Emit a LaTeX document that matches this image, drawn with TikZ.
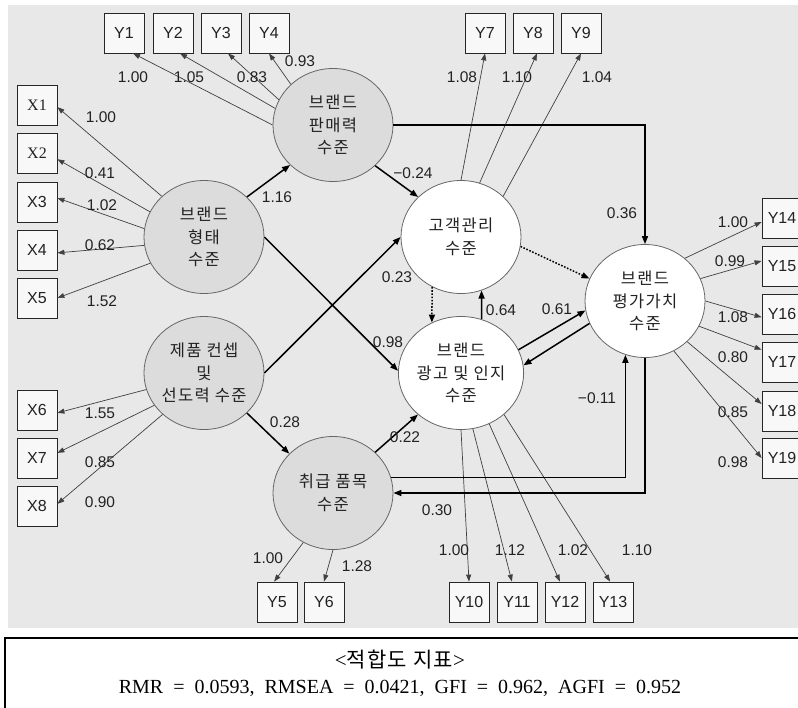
\documentclass[tikz,border=0pt]{standalone}
\usepackage{fontspec}
\setmainfont{Liberation Sans}
\newfontfamily\krfont{Noto Sans CJK KR}[LetterSpace=8]
\newfontfamily\krfoot{Noto Sans CJK KR}[LetterSpace=6]
\newfontfamily\serfont{Liberation Serif}
\newcommand{\fsp}{\hspace{10pt}}
\usetikzlibrary{shapes.geometric,arrows.meta}
\definecolor{panelbg}{HTML}{E8E8E8}
\definecolor{latfill}{HTML}{DCDCDC}
\definecolor{boxfill}{HTML}{F8F8F8}
\definecolor{txt}{HTML}{222222}
\tikzset{
  lat/.style={ellipse, draw=black!60, line width=0.8pt, minimum width=120pt, minimum height=113pt,
    inner sep=0pt, align=center, text=txt, font=\krfont\fontsize{16.5}{22.5}\selectfont},
  latg/.style={lat, fill=latfill},
  latw/.style={lat, fill=white},
  obs/.style={draw=black!85, fill=boxfill, line width=0.8pt, minimum width=40pt, minimum height=40pt,
    inner sep=0pt, text=txt, font=\fontsize{16}{18}\selectfont},
  obsser/.style={obs, font=\serfont\fontsize{16}{18}\selectfont},
  lbl/.style={inner sep=0pt, text=txt, font=\fontsize{15.5}{18}\selectfont},
  ml/.style={draw=black!75, line width=0.7pt, -{Triangle[length=7pt,width=5pt]}},
  sl/.style={draw=black, line width=1.5pt, -{Triangle[length=8pt,width=6pt]}},
  dl/.style={draw=black, line width=1.5pt, dash pattern=on 1.6pt off 1.6pt, -{Triangle[length=8pt,width=6pt]}}
}
\begin{document}
\begin{tikzpicture}[x=1pt,y=-1pt]
\useasboundingbox (0,0) rectangle (798,707);
\clip (0,0) rectangle (798,707);
\fill[white] (0,0) rectangle (798,707);
\fill[panelbg] (8,5) rectangle (800,628);
\draw[line width=1.2pt] (5,720) -- (5,638) -- (810,638);

% observed boxes
\node[obs] (Y1) at (124,33) {Y1};
\node[obs] (Y2) at (173,33) {Y2};
\node[obs] (Y3) at (221,33) {Y3};
\node[obs] (Y4) at (269,33) {Y4};
\node[obs] (Y7) at (485,33) {Y7};
\node[obs] (Y8) at (533,33) {Y8};
\node[obs] (Y9) at (581,33) {Y9};
\node[obsser] (X1) at (37,105) {X1};
\node[obsser] (X2) at (37,153) {X2};
\node[obs] (X3) at (37,202) {X3};
\node[obs] (X4) at (37,250) {X4};
\node[obs] (X5) at (37,298) {X5};
\node[obs] (X6) at (37,410) {X6};
\node[obs] (X7) at (37,458) {X7};
\node[obs] (X8) at (37,506) {X8};
\node[obs] (Y5) at (277,602) {Y5};
\node[obs] (Y6) at (324,602) {Y6};
\node[obs] (Y10) at (469,602) {Y10};
\node[obs] (Y11) at (517,602) {Y11};
\node[obs] (Y12) at (565,602) {Y12};
\node[obs] (Y13) at (613,602) {Y13};
\node[obs] (Y14) at (782,218) {Y14};
\node[obs] (Y15) at (782,266) {Y15};
\node[obs] (Y16) at (782,314) {Y16};
\node[obs] (Y17) at (782,362) {Y17};
\node[obs] (Y18) at (782,411) {Y18};
\node[obs] (Y19) at (782,458) {Y19};

% latent variables
\node[latg] (Pan) at (333,125) {브랜드\\판매력\\수준};
\node[latg] (Form) at (204,237) {브랜드\\형태\\수준};
\node[latg] (Prod) at (204,373) {제품 컨셉\\및\\선도력 수준};
\node[latg] (Item) at (333,493) {취급 품목\\수준};
\node[latw] (Cust) at (461,237) {고객관리\\수준};
\node[latw] (Ad) at (461,373) {브랜드\\광고 및 인지\\수준};
\node[latw] (Eval) at (645,301) {브랜드\\평가가치\\수준};

% measurement paths
\draw[ml] (Pan.180) -- (Y1.-66);
\draw[ml] (Pan.164) -- (Y2.-71);
\draw[ml] (Pan.155) -- (Y3.-71);
\draw[ml] (Pan.136) -- (Y4.south);
\draw[ml] (Form.136) -- (X1.-6);
\draw[ml] (Form.155) -- (X2.-17);
\draw[ml] (Form.172) -- (X3.11);
\draw[ml] (Form.188) -- (X4.-8);
\draw[ml] (Form.206) -- (X5.east);
\draw[ml] (Prod.196) -- (X6.-8);
\draw[ml] (Prod.213) -- (X7.14);
\draw[ml] (Prod.225) -- (X8.6);
\draw[ml] (Item.239) -- (Y5.98);
\draw[ml] (Item.270) -- (Y6.north);
\draw[ml] (Cust.90) -- (Y7.south);
\draw[ml] (Cust.71) -- (Y8.-79);
\draw[ml] (Cust.44) -- (Y9.south);
\draw[ml] (Ad.270) -- (Y10.north);
\draw[ml] (Ad.282) -- (Y11.104);
\draw[ml] (Ad.299) -- (Y12.104);
\draw[ml] (Ad.316) -- (Y13.98);
\draw[ml] (Eval.47) -- (Y14.191);
\draw[ml] (Eval.22) -- (Y15.166);
\draw[ml] (Eval.0) -- (Y16.189);
\draw[ml] (Eval.-25) -- (Y17.149);
\draw[ml] (Eval.-44) -- (Y18.161);
\draw[ml] (Eval.-60) -- (Y19.west);

% structural paths
\draw[sl] (Form.43) -- (Pan.223);
\draw[sl] (Pan.-44) -- (Cust.137);
\draw[sl] (Pan.east) -| (Eval.north);
\draw[sl] (Form.east) -- (Ad.178);
\draw[sl] (Prod.east) -- (Cust.west);
\draw[sl] (Prod.-43) -- (Item.138);
\draw[sl] (Item.44) -- (Ad.224);
\draw[sl] (Ad.22) -- (Eval.189);
\draw[sl] (Eval.202) -- (Ad.7);
\draw[sl] (Ad.69) -- (Cust.-69);
\draw[dl] (Cust.240) -- (Ad.120);
\draw[dl] (Cust.-9) -- (Eval.158);
\draw[sl] (Item.15) -| (Eval.250);
\draw[sl] (Eval.south) |- (Item.east);

% labels
\node[lbl] (a1) at (133,77) {1.00};
\node[lbl] (a2) at (189,77) {1.05};
\node[lbl] (a3) at (252,77) {0.83};
\node[lbl] (a4) at (300,61) {0.93};
\node[lbl] (b1) at (101,117) {1.00};
\node[lbl] (b2) at (100,173) {0.41};
\node[lbl] (b3) at (102,205) {1.02};
\node[lbl] (b4) at (100,245) {0.62};
\node[lbl] (b5) at (102,301) {1.52};
\node[lbl] (c1) at (100,413) {1.55};
\node[lbl] (c2) at (100,462) {0.85};
\node[lbl] (c3) at (100,502) {0.90};
\node[lbl] (d1) at (268,558) {1.00};
\node[lbl] (d2) at (357,566) {1.28};
\node[lbl] (e1) at (462,77) {1.08};
\node[lbl] (e2) at (517,77) {1.10};
\node[lbl] (e3) at (597,77) {1.04};
\node[lbl] (f1) at (454,550) {1.00};
\node[lbl] (f2) at (510,550) {1.12};
\node[lbl] (f3) at (573,550) {1.02};
\node[lbl] (f4) at (637,550) {1.10};
\node[lbl] (g1) at (733,222) {1.00};
\node[lbl] (g2) at (730,261) {0.99};
\node[lbl] (g3) at (733,317) {1.08};
\node[lbl] (g4) at (733,357) {0.80};
\node[lbl] (g5) at (733,412) {0.85};
\node[lbl] (g6) at (733,462) {0.98};
\node[lbl] (s1) at (277,197) {1.16};
\node[lbl] (s2) at (413,173) {−0.24};
\node[lbl] (s3) at (622,213) {0.36};
\node[lbl] (s4) at (397,277) {0.23};
\node[lbl] (s5) at (388,342) {0.98};
\node[lbl] (s6) at (501,310) {0.64};
\node[lbl] (s7) at (557,309) {0.61};
\node[lbl] (s8) at (285,422) {0.28};
\node[lbl] (s9) at (405,437) {0.22};
\node[lbl] (s10) at (597,398) {−0.11};
\node[lbl] (s11) at (437,510) {0.30};

% fit indices
\node[inner sep=0pt, font=\serfont\fontsize{21}{22}\selectfont] (fit1) at (400,660) {<{\krfoot\fontsize{21}{22}\selectfont 적합도 지표}>};
\node[inner sep=0pt, font=\serfont\fontsize{20}{22}\selectfont] (fit2) at (400,688) {RMR\fsp=\fsp0.0593,\fsp RMSEA\fsp=\fsp0.0421,\fsp GFI\fsp=\fsp0.962,\fsp AGFI\fsp=\fsp0.952};
\end{tikzpicture}
\end{document}
